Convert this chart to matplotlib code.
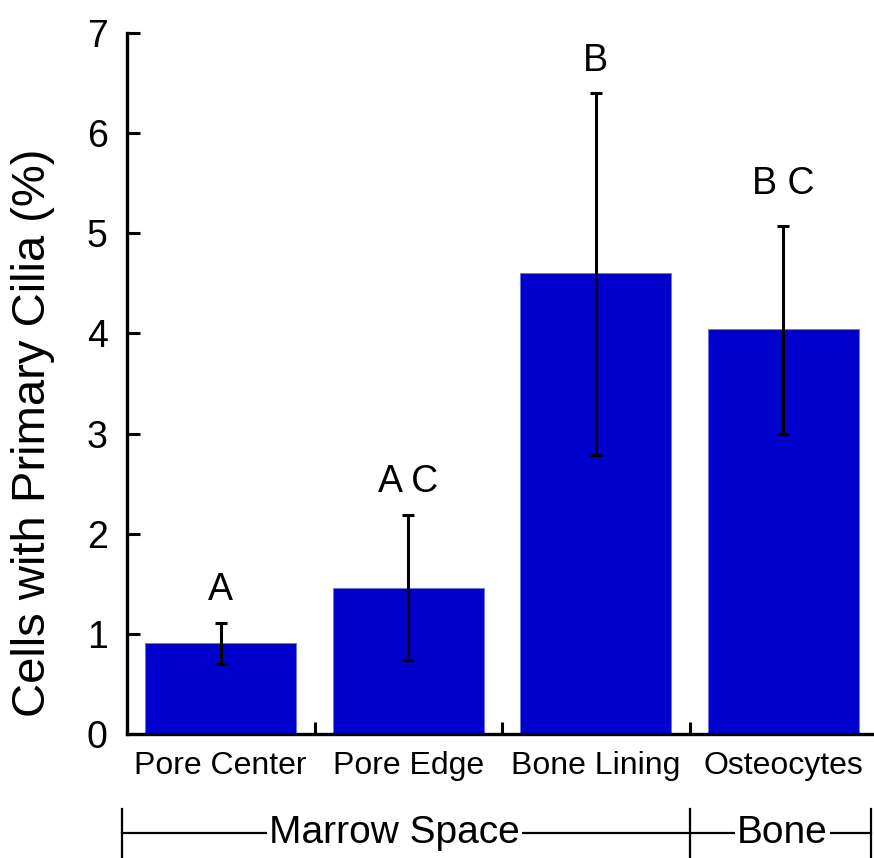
import matplotlib
matplotlib.use("Agg")
import matplotlib.pyplot as plt
from matplotlib.ticker import FixedLocator

plt.rcParams['font.family'] = ['Liberation Sans', 'DejaVu Sans']

categories = ["Pore Center", "Pore Edge", "Bone Lining", "Osteocytes"]
values = [0.91, 1.46, 4.60, 4.04]
err_low = [0.70, 0.74, 2.79, 3.00]
err_high = [1.11, 2.19, 6.40, 5.07]
letters = ["A", "A C", "B", "B C"]
letter_y = [1.44, 2.52, 6.72, 5.49]
groups = ["Marrow Space", "Bone"]
yticks = [0, 1, 2, 3, 4, 5, 6, 7]

W, H = 874, 858
fig = plt.figure(figsize=(W / 100, H / 100), dpi=100)
ax = fig.add_axes([127 / W, 124 / H, (874 - 127) / W, (734 - 33) / H])

x = list(range(len(categories)))
yerr = [[v - lo for v, lo in zip(values, err_low)],
        [hi - v for v, hi in zip(values, err_high)]]
ax.bar(x, values, width=0.805, color="#0000CC", edgecolor="#6f6ff0", linewidth=0.6, zorder=2)
ax.errorbar(x, values, yerr=yerr, fmt="none", ecolor="black", elinewidth=2.2,
            capsize=4, capthick=2.2, zorder=3)

for xi, t, yy in zip(x, letters, letter_y):
    ax.text(xi, yy, t, ha="center", va="center", fontsize=27)

ax.set_xlim(-0.5, 3.484)
ax.set_ylim(0, 7)
ax.set_yticks(yticks)
ax.set_yticklabels([str(t) for t in yticks])
ax.set_xticks(x)
ax.set_xticklabels(categories)
ax.xaxis.set_minor_locator(FixedLocator([0.5, 1.5, 2.5]))

ax.tick_params(axis="y", direction="in", length=9, width=2.2, labelsize=27, pad=14)
ax.tick_params(axis="x", which="major", length=0, labelsize=23, pad=12)
ax.tick_params(axis="x", which="minor", direction="in", length=9, width=2.2)

for s in ["top", "right"]:
    ax.spines[s].set_visible(False)
for s in ["left", "bottom"]:
    ax.spines[s].set_linewidth(2.4)

fig.text(33 / W, 1 - 433 / H, "Cells with Primary Cilia (%)", rotation=90,
         ha="center", va="center", fontsize=34)

# group bracket (axes-fraction y below the axes)
ytr = ax.get_xaxis_transform()
yline = -(833 - 734) / (734 - 33)
ytop = -(809 - 734) / (734 - 33)
ybot = -(858 - 734) / (734 - 33)
x_left, x_mid, x_right = -0.527, 2.5, 3.47
ax.plot([x_left, x_right], [yline, yline], color="black", lw=1.6, transform=ytr, clip_on=False)
for xv in [x_left, x_mid, x_right]:
    ax.plot([xv, xv], [ytop, ybot], color="black", lw=1.6, transform=ytr, clip_on=False)
ax.text((x_left + x_mid) / 2 - 0.06, yline, groups[0], transform=ytr, ha="center", va="center",
        fontsize=28, bbox=dict(facecolor="white", edgecolor="none", pad=1.5))
ax.text((x_mid + x_right) / 2 + 0.01, yline, groups[1], transform=ytr, ha="center", va="center",
        fontsize=28, bbox=dict(facecolor="white", edgecolor="none", pad=1.5))

fig.savefig("out.png", dpi=100)
